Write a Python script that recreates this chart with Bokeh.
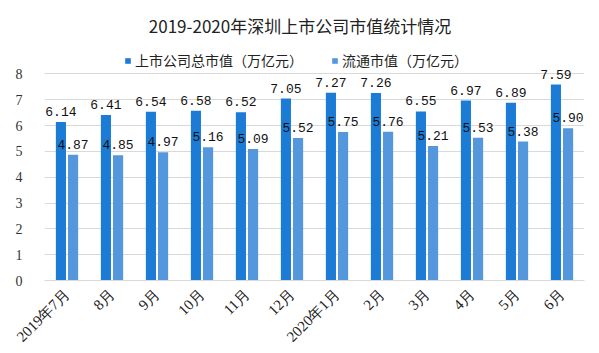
from bokeh.plotting import figure
from bokeh.models import (ColumnDataSource, Range1d, FixedTicker, Legend, LegendItem,
                          Label, LabelSet)
from bokeh.transform import dodge
from bokeh.core.properties import value
from bokeh.embed import file_html
from bokeh.resources import INLINE

months = ["2019年7月", "8月", "9月", "10月", "11月", "12月", "2020年1月",
          "2月", "3月", "4月", "5月", "6月"]
total_cap = [6.14, 6.41, 6.54, 6.58, 6.52, 7.05, 7.27, 7.26, 6.55, 6.97, 6.89, 7.59]
float_cap = [4.87, 4.85, 4.97, 5.16, 5.09, 5.52, 5.75, 5.76, 5.21, 5.53, 5.38, 5.90]
y_ticks = [0, 1, 2, 3, 4, 5, 6, 7, 8]

title_text = "2019-2020年深圳上市公司市值统计情况"
series_names = ["上市公司总市值（万亿元）", "流通市值（万亿元）"]
source_cn = "制图：中商情报网"
source_en = "WWW.ASKCI.COM"

DARK = "#1C7CD5"
LIGHT = "#5597DD"

src = ColumnDataSource(dict(
    m=months, t=total_cap, f=float_cap,
    tl=["%.2f" % v for v in total_cap],
    fl=["%.2f" % v for v in float_cap],
))

W, H = 599, 353
left, right, top, bottom = 44, 15, 0, 71
frame_h = H - top - bottom
px_per_unit = 26.0
y_end = frame_h / px_per_unit

p = figure(width=W, height=H, x_range=months, y_range=Range1d(0, y_end),
           output_backend="svg", toolbar_location=None,
           min_border_left=left, min_border_right=right,
           min_border_top=top, min_border_bottom=bottom)
p.x_range.range_padding = 0
p.outline_line_color = None
p.background_fill_color = "white"
p.border_fill_color = "white"

r1 = p.vbar(x=dodge("m", -0.135, range=p.x_range), top="t", width=0.225,
            source=src, fill_color=DARK, line_color=None)
r2 = p.vbar(x=dodge("m", 0.135, range=p.x_range), top="f", width=0.225,
            source=src, fill_color=LIGHT, line_color=None)

lab_font = value("Liberation Mono")
l1 = LabelSet(x=dodge("m", -0.135, range=p.x_range), y="t", text="tl", source=src,
              text_align="center", text_baseline="bottom", y_offset=6,
              text_font=lab_font, text_font_size="13px", text_color="#111111")
l2 = LabelSet(x=dodge("m", 0.135, range=p.x_range), y="f", text="fl", source=src,
              text_align="center", text_baseline="bottom", y_offset=6,
              text_font=lab_font, text_font_size="13px", text_color="#111111")
p.add_layout(l1)
p.add_layout(l2)

# axes
p.yaxis.ticker = FixedTicker(ticks=y_ticks)
p.yaxis.axis_line_color = None
p.yaxis.major_tick_line_color = None
p.yaxis.minor_tick_line_color = None
p.yaxis.major_label_standoff = 16
p.yaxis.major_label_text_font = "Liberation Serif"
p.yaxis.major_label_text_font_size = "14px"
p.yaxis.major_label_text_color = "#333333"

p.xaxis.axis_line_color = "#D9D9D9"
p.xaxis.major_tick_line_color = None
p.xaxis.minor_tick_line_color = None
p.xaxis.major_label_orientation = 0.785
p.xaxis.major_label_standoff = 5
p.xaxis.major_label_text_font = "Liberation Serif"
p.xaxis.major_label_text_font_size = "15px"
p.xaxis.major_label_text_color = "#222222"

p.xgrid.grid_line_color = None
p.ygrid.grid_line_color = "#D9D9D9"
p.ygrid.ticker = FixedTicker(ticks=y_ticks)

# title
p.add_layout(Label(x=(W / 2 - left) / 45.0, y=y_end - 25 / px_per_unit, text=title_text,
                   text_align="center", text_baseline="middle",
                   text_font="Noto Sans CJK SC", text_font_size="17px",
                   text_color="#222222"))

# legend
legend = Legend(items=[LegendItem(label=series_names[0], renderers=[r1]),
                       LegendItem(label=series_names[1], renderers=[r2])],
                orientation="horizontal", location=(80, frame_h - 72),
                glyph_width=7, glyph_height=7, label_standoff=4, spacing=28,
                padding=0, margin=0, border_line_color=None,
                background_fill_alpha=0,
                label_text_font="Noto Sans CJK SC", label_text_font_size="14px",
                label_text_color="#222222")
p.add_layout(legend)

# source note
p.add_layout(Label(x=(490 - left) / 45.0, y=-(343 - frame_h) / px_per_unit, text=source_cn,
                   text_align="right", text_baseline="middle",
                   text_font="Noto Sans CJK SC", text_font_size="12px",
                   text_color="#222222"))
p.add_layout(Label(x=(496 - left) / 45.0, y=-(343 - frame_h) / px_per_unit, text=source_en,
                   text_align="left", text_baseline="middle",
                   text_font="Liberation Mono", text_font_size="10px",
                   text_color="#222222"))

open("out.html", "w").write(file_html(p, INLINE))
